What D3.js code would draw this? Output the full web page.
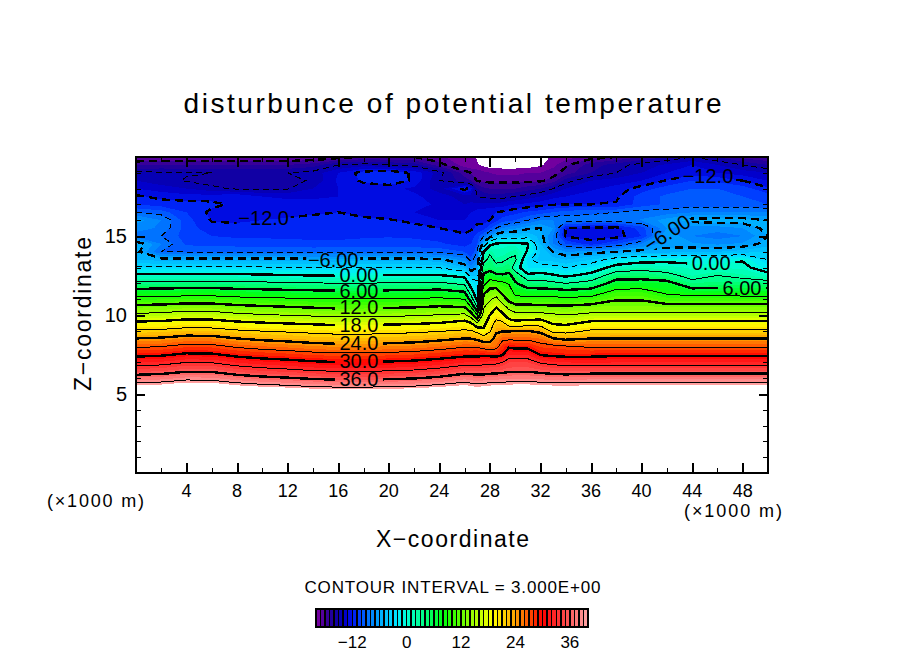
<!DOCTYPE html>
<html>
<head>
<meta charset="utf-8">
<style>
  html, body { margin: 0; background: #fff; }
  text { font-family: "Liberation Sans", sans-serif; fill: #000; }
</style>
<script src="https://cdn.jsdelivr.net/npm/d3@7"></script>
</head>
<body>
<div class="chart"></div>
<script>
function wrapper(){

//grid of the field, columns are not evenly spaced (dense around the fold)
var xKm = [0,2,4,6,8,10,12,14,16,18,20,22,24,26,26.5,27,27.5,28,28.5,29,29.5,30,31,32,33,34,36,38,40,42,44,46,48,50];
var zKm = [5,5.5,6,6.5,7,7.5,8,8.5,9,9.5,10,10.5,11,11.5,12,12.5,13,13.5,14,14.5,15,15.5,16,16.5,17,17.5,18,18.5,19,19.5,20];

//one list per x column, z going upward from 5 to 20
var col00 = [44,40.3,37.2,34.4,31.9,29.3,26.7,24.1,21.3,18.5,15.6,12.8,9.8,7,3.8,.6,-2.7,-5,-5.5,-5,-8.5,-7.5,-6.5,-9,-11,-11.8,-13,-14,-14.7,-17.2,-19];
var col02 = [44.3,40.6,37.5,34.7,32.2,29.6,27,24.4,21.5,18.7,15.8,13,9.9,7.1,3.9,.7,-2.7,-5.4,-9,-8,-9,-8.2,-8,-9.5,-11.5,-12.3,-13.5,-14.6,-14.8,-17,-19];
var col04 = [45.1,41.4,38.3,35.5,33,30.4,27.8,25.2,22.1,19.3,16.4,13.6,10.2,7.4,4,.7,-2.7,-5.5,-9.1,-10.2,-10.5,-10.5,-10.6,-11,-11.5,-12.6,-14,-15.1,-14.9,-17,-19];
var col06 = [45,41.3,38.2,35.4,32.9,30.3,27.7,25.1,22,19.2,16.3,13.5,10.2,7.4,4,.7,-2.7,-5.5,-9.2,-10.3,-11,-11.6,-12.1,-12.3,-11.7,-12.5,-14.7,-15.5,-15,-17,-19];
var col08 = [44,40.3,37.2,34.4,31.9,29.3,26.7,24.1,21.3,18.5,15.6,12.8,9.8,7,3.8,.6,-2.7,-5.4,-9.2,-10.4,-11.2,-11.8,-12.1,-12.8,-12.3,-12.1,-15.2,-15.6,-15.1,-17,-19];
var col10 = [43.4,39.7,36.6,33.8,31.3,28.7,26.1,23.5,20.9,18.1,15.2,12.4,9.6,6.8,3.6,.4,-2.8,-5.4,-9.2,-10.5,-11.2,-11.8,-12,-12.6,-12.5,-13,-15.2,-15.6,-15.1,-17,-19];
var col12 = [43,39.3,36.2,33.4,30.9,28.3,25.7,23.1,20.6,17.8,14.9,12.1,9.4,6.6,3.4,.2,-2.9,-5.4,-9.2,-10.5,-11.3,-11.6,-11.9,-12.2,-12.6,-13.2,-15.1,-15.5,-15,-17,-19];
var col14 = [42.5,38.8,35.7,32.9,30.4,27.8,25.2,22.6,20.3,17.5,14.6,11.8,9.2,6.4,3.2,0,-3,-5.5,-9.3,-10.6,-11.4,-11.5,-11.8,-12.1,-12.6,-13.2,-14,-14.8,-14.6,-16.5,-19];
var col16 = [42.2,38.5,35.4,32.6,30.1,27.5,24.9,22.3,20,17.2,14.3,11.5,9.1,6.3,3.1,-.1,-3.1,-5.6,-9.2,-10.6,-11.4,-11.5,-11.7,-12,-12.5,-13,-13,-12.8,-13,-15,-18.5];
var col18 = [42.2,38.5,35.4,32.6,30.1,27.5,24.9,22.3,20,17.2,14.3,11.5,9.1,6.3,3.1,0,-3,-5.4,-9.2,-10.5,-11.2,-11.5,-11.8,-12.3,-12.5,-12.6,-12.5,-11.8,-11.5,-14.5,-18];
var col20 = [42.4,38.7,35.6,32.8,30.3,27.7,25.1,22.5,20.2,17.4,14.5,11.7,9.2,6.4,3.2,.1,-3,-5.4,-9.2,-10.5,-11.1,-11.6,-11.9,-12.6,-12.6,-12.6,-12.7,-11.2,-11,-15,-18];
var col22 = [42.7,39,35.9,33.1,30.6,28,25.4,22.8,20.4,17.6,14.7,11.9,9.3,6.5,3.3,.2,-3,-5.5,-9.2,-10.6,-11.2,-11.6,-12.3,-13,-12.6,-12.8,-13.2,-12.2,-12.3,-15.5,-18];
var col24 = [43.3,39.6,36.5,33.7,31.2,28.6,26,23.4,20.8,18,15.1,12.3,9.5,6.7,3.5,.2,-3.1,-5.6,-9.3,-10.8,-11.5,-12,-13,-13.2,-13.2,-13.5,-14.5,-15,-14.5,-17.5,-18.8];
var col26 = [43.5,40.4,37.6,34.8,32,29.3,26.8,24.1,21.3,19,15.5,12,9,5.8,2.4,-.8,-5,-7.5,-10,-11.5,-11.8,-12.4,-13,-13.2,-14,-14.5,-11.5,-16.5,-17.5,-19.5,-19.6];
var col26h = [43,40,37.3,34.7,32,29.3,26.7,24,21.2,18,13.5,9,4.7,1.3,-1.5,-4,-7.5,-9.5,-11,-11,-11.5,-12.2,-12.5,-13,-13.8,-14.5,-12.5,-17,-18,-19.8,-19.7];
var col27 = [42.5,39.7,37.1,34.8,32,29.3,26.8,23.5,20.2,15,9,3,-1,-2.5,-2.5,-4,-6,-8,-9,-10,-10.5,-11.8,-12.2,-12.5,-13.8,-15,-16,-18.1,-18.4,-19.9,-20.1];
var col27h = [43,40,37.2,34.7,32.2,29.5,26,22.5,18.6,17,15.9,14.8,13.4,11,8,6.5,4.5,2,0,-5,-9,-11.5,-12.4,-12.3,-13.8,-15.2,-16.8,-18.2,-18.7,-20.3,-20.8];
var col28 = [43,40.2,37.4,34.9,32.4,29.3,25.5,22.8,20.7,19.6,18,16.5,14.6,12.8,10.4,7.5,4.9,3.9,2.5,-.7,-7,-10.2,-12,-12.2,-13.8,-15.5,-17,-18.3,-19,-20.6,-21.2];
var col28h = [43,40.3,37.5,35,32.5,29,26.2,25,23.5,21.8,19.7,17.9,15.8,13.2,10.2,6.5,4,2.2,1.3,.3,-5,-9,-11.3,-12,-13.6,-15.5,-17,-18.3,-19.2,-20.6,-21.4];
var col29 = [43,40.4,37.6,35.2,33,29.8,28.5,26.5,23.8,21.6,18.6,16.3,13.5,11,9.6,6.3,4.2,2.5,1.5,.5,-4.3,-8,-10.5,-11.8,-13.5,-15.5,-17,-18.3,-19.3,-20.6,-21.5];
var col29h = [43,40.5,37.7,35.5,34,32,29.7,26.5,23.7,19.2,16.7,14.2,11.1,10.5,8.8,6.6,4.8,3.3,2,.7,-4.4,-7.5,-10.3,-11.5,-13.2,-15.2,-17,-18.3,-19.3,-20.6,-21.5];
var col30 = [43,40.6,37.8,35.6,34,31.8,29.4,26.5,24,18.8,16,13.1,9.9,7.9,6.3,5,1.2,3.5,2.5,.5,-4.5,-7.2,-10,-11.3,-13,-15,-17,-18.3,-19.3,-20.6,-21.5];
var col31 = [43,40.6,37.8,35.6,34,31.8,29.4,26.5,24,19.2,16,13,10,7,4.5,.5,-2,-2.5,-.3,.2,-4,-6.3,-9,-10.8,-12.7,-14.5,-16.5,-18.3,-19,-20.6,-21];
var col32 = [43,40.4,37.6,35.2,32.8,29.8,27.8,26,23.3,19.5,16,12.6,10,7,4.3,1,-2,-4.5,-4,-5,-5.5,-6,-8,-10.5,-12.4,-14,-16,-18.2,-19,-20.2,-20.5];
var col33 = [43,40.2,37.4,34.8,32.2,29.4,27.7,24.2,20.2,17.6,15.4,12.6,9.9,7,3.7,.3,-2.3,-4.5,-6,-8,-8,-7,-8,-10,-12.1,-13.3,-15,-17.5,-18.5,-19.3,-19.8];
var col34 = [43,40.1,37.3,34.6,32,29.2,27.3,23.5,20,17.3,15,12.5,9.7,6.6,3,-.5,-3,-5,-7,-10,-12.2,-12,-8.3,-9.5,-12,-13,-14,-15.5,-17.5,-18.2,-19.5];
var col36 = [43,40.3,37.6,34.8,31.8,29.3,26.7,24.1,21.3,18.6,15.7,13.1,10,7,4.1,.9,-1.8,-4,-6.5,-11.5,-12.5,-12.3,-8.5,-9.2,-12,-12.5,-13.2,-14,-16,-16.5,-18.5];
var col38 = [43,40.3,37.6,34.8,32,29.5,26.8,24.1,21.4,18.7,15.8,13.2,11.8,9.7,7.1,4.8,1.1,-2,-6,-10,-12.5,-12.4,-8.5,-9,-11.9,-12.2,-12.6,-13.5,-15,-15.5,-18];
var col40 = [43,40.3,37.6,34.8,32,29.5,26.8,24.1,21.4,18.7,15.8,13.2,11.8,9.8,7.2,4.9,1.9,-1,-5.5,-8,-11,-10.5,-7.9,-8.5,-10.5,-10.5,-11.5,-13,-14,-14.5,-17];
var col42 = [43,40.3,37.6,34.8,32,29.5,26.8,24.1,21.4,18.7,15.8,13,10.4,8.2,7,4,1.5,-.7,-5.5,-6.5,-6,-7,-6.5,-8.5,-9.8,-9.8,-10.5,-11.9,-13,-13.8,-16];
var col44 = [43,40.3,37.6,34.8,32,29.5,26.8,24.1,21.4,18.7,15.8,13,10.4,7.2,4,1.9,.8,-.8,-5,-6.8,-8,-7.5,-5.5,-8,-9.5,-9,-10,-11,-12.5,-13,-15];
var col46 = [43,40.3,37.6,34.8,32,29.5,26.8,24.1,21.4,18.7,15.8,13,10.4,7.2,4.3,3,1,-1,-5,-7.2,-8.5,-7.5,-5.3,-8,-9.5,-9,-10,-11.2,-13,-14,-16];
var col48 = [43,40.3,37.6,34.8,32,29.5,26.8,24.1,21.4,18.7,15.8,13,10.2,7.2,4.4,2.2,.7,-.2,-4.5,-6.8,-8,-7,-5.3,-8,-9.5,-10,-10.5,-12,-13.5,-15,-17.5];
var col50 = [43,40.3,37.6,34.8,32,29.5,26.8,24.1,21.4,18.7,15.8,13,10.2,7.2,4.3,.9,-1.5,-3,-4,-5.5,-6,-5.5,-6,-8,-10,-10.5,-11.8,-13,-14,-16,-18];

var columns = [col00,col02,col04,col06,col08,col10,col12,col14,col16,col18,col20,col22,col24,col26,col26h,col27,col27h,col28,col28h,col29,col29h,col30,col31,col32,col33,col34,col36,col38,col40,col42,col44,col46,col48,col50];

//rainbow used by the fill and the colour bar
var colorValues = [-20,-17,-15,-13,-11,-9,-6,-2,0,4,8,10,14,19,24,30,35,40];
var colorStops = ["#8000a0","#2a0098","#0800a8","#0000d8","#0030ff","#0068ff","#00a8ff","#00e8ff","#00ffd8","#00ff80","#00ff10","#30ff00","#90ff00","#ffff00","#ffa000","#ff0000","#ff4a4a","#ffa8a8"];

//contour labels sit on their lines, place in km
var labelText = ["\u221212.0","\u22126.00","0.00","6.00","12.0","18.0","24.0","30.0","36.0","0.00","6.00","\u221212.0","\u22126.00"];
var labelX = [10.1,15.6,17.64,17.64,17.64,17.64,17.64,17.64,17.64,45.5,47.94,45.25,42];
var labelZ = [16.14,13.48,12.53,11.52,10.5,9.37,8.23,7.09,5.95,13.29,11.71,18.8,15.19];
var labelAngle = [0,0,0,0,0,0,0,0,0,0,0,0,-33];

var barTicks = [-12,0,12,24,36];

var w = 904, h = 654;
var svg = d3.select("div.chart")
            .append("svg")
            .attr("width", w)
            .attr("height", h)
            .style("display", "block");

var plot = {left: 136, right: 768, top: 157, bottom: 473};

var x = d3.scaleLinear().domain([0,50]).range([plot.left, plot.right]);
var z = d3.scaleLinear().domain([0,20]).range([plot.bottom, plot.top]);
var color = d3.scaleLinear().domain(colorValues).range(colorStops).clamp(true);

//grid index to km, so the even grid of d3.contours lands on the uneven columns
var xOfIndex = d3.scaleLinear().domain(d3.range(xKm.length)).range(xKm).clamp(true);
var zOfIndex = d3.scaleLinear().domain(d3.range(zKm.length)).range(zKm).clamp(true);

var nx = xKm.length, nz = zKm.length;
var flat = [];
for (var j = 0; j < nz; j++){
  for (var i = 0; i < nx; i++){
    flat.push(columns[i][j]);
  }
}

function toPx(p){
  return [x(xOfIndex(p[0]-0.5)), z(zOfIndex(p[1]-0.5))];
}

var contourGen = d3.contours().size([nx,nz]);

svg.append("clipPath").attr("id","plotClip")
   .append("rect")
   .attr("x", plot.left).attr("y", plot.top)
   .attr("width", plot.right-plot.left).attr("height", plot.bottom-plot.top);

var field = svg.append("g").attr("clip-path","url(#plotClip)");

//filled bands, one colour per unit
var fillPath = d3.geoPath(d3.geoTransform({
  point: function(px,py){
    var p = toPx([px,py]);
    this.stream.point(p[0],p[1]);
  }
}));

field.selectAll(".band")
     .data(d3.range(-20,41))
     .enter()
     .append("path")
       .attr("d", function(t){ return fillPath(contourGen.contour(flat,t)); })
       .attr("fill", function(t){ return t >= 40 ? "#fff" : color(t+0.5); })
       .attr("shape-rendering","crispEdges");

//contour lines without the pieces that run along the grid border
function linePath(level){
  var geom = contourGen.contour(flat,level);
  var d = "";
  geom.coordinates.forEach(function(poly){
    poly.forEach(function(ring){
      var pen = false;
      for (var k = 1; k < ring.length; k++){
        var a = ring[k-1], b = ring[k];
        var border = (a[0]<=0.5 && b[0]<=0.5) || (a[0]>=nx-0.5 && b[0]>=nx-0.5) ||
                     (a[1]<=0.5 && b[1]<=0.5) || (a[1]>=nz-0.5 && b[1]>=nz-0.5);
        if (border){ pen = false; continue; }
        var pa = toPx(a), pb = toPx(b);
        if (!pen){ d += "M"+pa[0]+","+pa[1]; pen = true; }
        d += "L"+pb[0]+","+pb[1];
      }
    });
  });
  return d;
}

//holes in the lines where the labels go
var mask = svg.append("mask").attr("id","labelGaps").attr("maskUnits","userSpaceOnUse")
              .attr("x",0).attr("y",0).attr("width",w).attr("height",h);
mask.append("rect").attr("width",w).attr("height",h).attr("fill","#fff");
mask.selectAll("rect.gap")
    .data(labelText)
    .enter()
    .append("rect")
      .attr("class","gap")
      .attr("x", function(d){ return -(d.length > 4 ? 27 : 24); })
      .attr("width", function(d){ return d.length > 4 ? 54 : 48; })
      .attr("y",-7).attr("height",14)
      .attr("fill","#000")
      .attr("transform", function(d,i){
        return "translate("+x(labelX[i])+","+z(labelZ[i])+") rotate("+labelAngle[i]+")";
      });

var lines = field.append("g").attr("mask","url(#labelGaps)");

lines.selectAll(".level")
     .data(d3.range(-18,40,3))
     .enter()
     .append("path")
       .attr("d", linePath)
       .attr("fill","none")
       .attr("stroke","#000")
       .attr("stroke-width", function(l){ return l % 6 === 0 ? 2.4 : 1; })
       .attr("stroke-dasharray", function(l){ return l < 0 ? (l % 6 === 0 ? "8,5" : "6,4") : null; })
       .attr("shape-rendering","crispEdges");

field.selectAll(".clabel")
     .data(labelText)
     .enter()
     .append("text")
       .text(function(d){ return d; })
       .attr("text-anchor","middle")
       .attr("dy","0.36em")
       .attr("font-size", 20)
       .attr("transform", function(d,i){
         return "translate("+x(labelX[i])+","+z(labelZ[i])+") rotate("+labelAngle[i]+")";
       });

//axes, ticks point inward on all four sides
function styleAxis(g, width){
  g.selectAll(".domain").remove();
  g.selectAll(".tick line").attr("stroke","#000").attr("stroke-width",width).attr("shape-rendering","crispEdges");
  g.selectAll(".tick text").remove();
}

var xMinor = d3.range(2,50,4), xMajor = d3.range(4,50,4);
var zMinor = [1,2,3,4,6,7,8,9,11,12,13,14,16,17,18,19], zMajor = [5,10,15];

svg.append("g").attr("transform","translate(0,"+plot.bottom+")")
   .call(d3.axisBottom(x).tickValues(xMinor).tickSize(-5)).call(styleAxis,1);
svg.append("g").attr("transform","translate(0,"+plot.bottom+")")
   .call(d3.axisBottom(x).tickValues(xMajor).tickSize(-10)).call(styleAxis,2);
svg.append("g").attr("transform","translate(0,"+plot.top+")")
   .call(d3.axisTop(x).tickValues(xMinor).tickSize(-5)).call(styleAxis,1);
svg.append("g").attr("transform","translate(0,"+plot.top+")")
   .call(d3.axisTop(x).tickValues(xMajor).tickSize(-10)).call(styleAxis,2);
svg.append("g").attr("transform","translate("+plot.left+",0)")
   .call(d3.axisLeft(z).tickValues(zMinor).tickSize(-5)).call(styleAxis,1);
svg.append("g").attr("transform","translate("+plot.left+",0)")
   .call(d3.axisLeft(z).tickValues(zMajor).tickSize(-9)).call(styleAxis,2);
svg.append("g").attr("transform","translate("+plot.right+",0)")
   .call(d3.axisRight(z).tickValues(zMinor).tickSize(-5)).call(styleAxis,1);
svg.append("g").attr("transform","translate("+plot.right+",0)")
   .call(d3.axisRight(z).tickValues(zMajor).tickSize(-9)).call(styleAxis,2);

svg.append("rect")
   .attr("x",plot.left).attr("y",plot.top)
   .attr("width",plot.right-plot.left).attr("height",plot.bottom-plot.top)
   .attr("fill","none").attr("stroke","#000").attr("stroke-width",2.5)
   .attr("shape-rendering","crispEdges");

svg.selectAll(".xlab")
   .data(xMajor)
   .enter()
   .append("text")
     .text(function(d){ return d; })
     .attr("x", function(d){ return x(d); })
     .attr("y", 497)
     .attr("text-anchor","middle")
     .attr("font-size",18);

svg.selectAll(".zlab")
   .data(zMajor)
   .enter()
   .append("text")
     .text(function(d){ return d; })
     .attr("x", 127)
     .attr("y", function(d){ return z(d)+7; })
     .attr("text-anchor","end")
     .attr("font-size",20);

function label(txt, px, py, size, len, rot){
  var t = svg.append("text")
     .text(txt)
     .attr("text-anchor","middle")
     .attr("font-size",size)
     .attr("textLength",len)
     .attr("lengthAdjust","spacing");
  if (rot){
    t.attr("transform","translate("+px+","+py+") rotate("+rot+")");
  } else {
    t.attr("x",px).attr("y",py);
  }
}

label("disturbunce of potential temperature", 452.5, 113, 28, 538);
label("(\u00d71000 m)", 95.5, 507, 18, 97);
label("(\u00d71000 m)", 733, 517, 18, 98);
label("X\u2212coordinate", 452.5, 547, 23, 153);
label("Z\u2212coordinate", 91, 314, 23, 154, -90);
label("CONTOUR INTERVAL = 3.000E+00", 452.5, 593, 17, 296);

//colour bar, one cell per unit
var barX = d3.scaleLinear().domain([-20,40]).range([316,588]);
var bar = svg.append("g");

bar.selectAll("rect")
   .data(d3.range(-20,40))
   .enter()
   .append("rect")
     .attr("x", function(d){ return barX(d); })
     .attr("y", 609)
     .attr("width", function(d){ return barX(d+1)-barX(d); })
     .attr("height", 18)
     .attr("fill", function(d){ return color(d+0.5); })
     .attr("stroke","#000")
     .attr("stroke-width",1.5)
     .attr("shape-rendering","crispEdges");

bar.append("rect")
   .attr("x",316).attr("y",609).attr("width",272).attr("height",18)
   .attr("fill","none").attr("stroke","#000").attr("stroke-width",2.5)
   .attr("shape-rendering","crispEdges");

svg.selectAll(".barlab")
   .data(barTicks)
   .enter()
   .append("text")
     .text(function(d){ return d < 0 ? "\u2212"+Math.abs(d) : d; })
     .attr("x", function(d){ return barX(d); })
     .attr("y", 648)
     .attr("text-anchor","middle")
     .attr("font-size",17);

}
window.onload = wrapper();
</script>
</body>
</html>
